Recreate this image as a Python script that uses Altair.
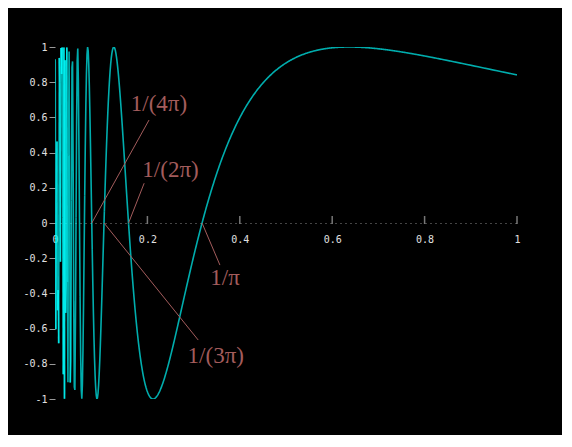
import numpy as np
import pandas as pd
import altair as alt

# curve: y = sin(1/x) on (0, 1]
xs = np.linspace(0.0005, 1.0, 800)
ys = np.sin(1.0 / xs)

# split the curve into pieces between consecutive zeros (separate paths)
half = np.floor(1.0 / (np.pi * xs)).astype(int)
rows = []
for i in range(len(xs) - 1):
    g = half[i]
    rows.append((g, i, xs[i], ys[i]))
    rows.append((g, i + 1, xs[i + 1], ys[i + 1]))
curve = (pd.DataFrame(rows, columns=["g", "i", "x", "y"])
         .drop_duplicates(subset=["g", "i"]))

# axis ticks
x_ticks = [0, 0.2, 0.4, 0.6, 0.8, 1]
x_tick_marks = [0.2, 0.4, 0.6, 0.8, 1]
y_ticks = [-1, -0.8, -0.6, -0.4, -0.2, 0, 0.2, 0.4, 0.6, 0.8, 1]

# annotations
ann_labels = ["1/(4π)", "1/(2π)", "1/π", "1/(3π)"]
ann_zero_x = [0.0796, 0.1592, 0.3183, 0.1061]
ann_end_x = [0.2035, 0.193, 0.357, 0.310]
ann_end_y = [0.585, 0.226, -0.239, -0.665]
ann_text_x = [0.225, 0.25, 0.368, 0.348]
ann_text_y = [0.676, 0.30, -0.31, -0.756]

ann = pd.DataFrame({
    "label": ann_labels,
    "zx": ann_zero_x,
    "zy": [0.0] * 4,
    "ex": ann_end_x,
    "ey": ann_end_y,
    "tx": ann_text_x,
    "ty": ann_text_y,
})

xscale = alt.Scale(domain=[0, 1], nice=False, zero=False)
yscale = alt.Scale(domain=[-1, 1], nice=False, zero=False)

mono = "DejaVu Sans Mono"
ann_color = "#a35c5c"

line = alt.Chart(curve).mark_line(color="#00ffff", strokeWidth=1.6, opacity=0.68,
                                  clip=True).encode(
    x=alt.X("x:Q", scale=xscale, title=None,
            axis=alt.Axis(values=x_ticks, tickCount=20, offset=-176,
                          domainColor="#888", domainDash=[1, 4], domainWidth=1,
                          ticks=False, labelPadding=11, labelFont=mono,
                          labelFontSize=10, labelColor="#e0e0e0",
                          labelExpr="'' + datum.value", grid=False,
                          labelFlush=False, labelOverlap=False)),
    y=alt.Y("y:Q", scale=yscale, title=None,
            axis=alt.Axis(values=y_ticks, tickCount=20, domain=False,
                          tickColor="#999", tickSize=6, labelPadding=2,
                          labelFont=mono, labelFontSize=10,
                          labelColor="#e0e0e0", labelExpr="'' + datum.value",
                          grid=False, labelFlush=False, labelOverlap=False)),
    detail="g:N",
    order="i:Q",
)

tick_df = pd.DataFrame({"x": x_tick_marks, "y": [0.0] * len(x_tick_marks)})
ticks = alt.Chart(tick_df).mark_tick(color="#aaaaaa", size=8, thickness=1.5,
                                      orient="vertical", yOffset=-3).encode(
    x=alt.X("x:Q", scale=xscale),
    y=alt.Y("y:Q", scale=yscale),
)

rules = alt.Chart(ann).mark_rule(color=ann_color, strokeWidth=1).encode(
    x=alt.X("zx:Q", scale=xscale),
    y=alt.Y("zy:Q", scale=yscale),
    x2="ex:Q",
    y2="ey:Q",
)

texts = alt.Chart(ann).mark_text(color=ann_color, font="Liberation Serif",
                                 fontSize=23, align="center",
                                 baseline="middle").encode(
    x=alt.X("tx:Q", scale=xscale),
    y=alt.Y("ty:Q", scale=yscale),
    text="label:N",
)

chart = alt.layer(ticks, line, rules, texts).properties(
    width=462, height=352,
    autosize=alt.AutoSizeParams(type="none"),
    padding={"left": 47, "top": 39, "right": 45, "bottom": 36},
    background="black",
).configure_view(stroke=None)

chart.save("out.html", embed_options={"renderer": "svg", "actions": False})
